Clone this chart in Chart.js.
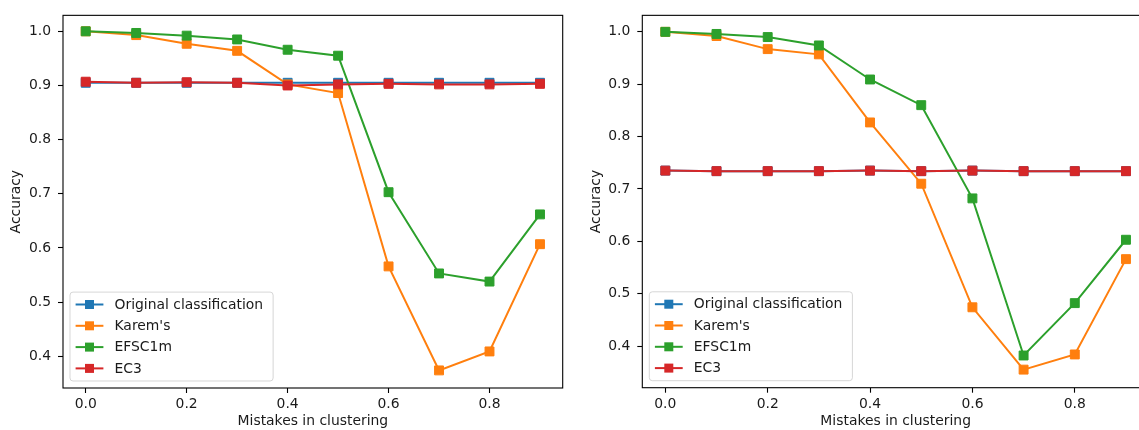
<!DOCTYPE html>
<html>
<head>
<meta charset="utf-8">
<script src="https://cdn.jsdelivr.net/npm/chart.js@4.4.1/dist/chart.umd.min.js"></script>
<style>
  html, body { margin: 0; padding: 0; background: #ffffff; }
  body { width: 1139px; height: 430px; overflow: hidden; position: relative; }
  canvas { position: absolute; top: 0; }
  #c1 { left: 0px; }
  #c2 { left: 570px; }
</style>
</head>
<body>
<canvas id="c1" width="570" height="430"></canvas>
<canvas id="c2" width="600" height="430"></canvas>
<script>
// ---- data ----
const mistakes = [0.0, 0.1, 0.2, 0.3, 0.4, 0.5, 0.6, 0.7, 0.8, 0.9];
const seriesNames = ["Original classification", "Karem's", "EFSC1m", "EC3"];

// left panel
const leftOriginal = [0.905, 0.905, 0.905, 0.905, 0.905, 0.905, 0.905, 0.905, 0.905, 0.905];
const leftKarem    = [1.000, 0.993, 0.977, 0.964, 0.902, 0.886, 0.566, 0.374, 0.409, 0.607];
const leftEFSC1m   = [1.000, 0.997, 0.992, 0.985, 0.966, 0.955, 0.703, 0.553, 0.538, 0.662];
const leftEC3      = [0.907, 0.905, 0.906, 0.905, 0.900, 0.902, 0.903, 0.902, 0.902, 0.903];

// right panel
const rightOriginal = [0.735, 0.734, 0.734, 0.734, 0.735, 0.734, 0.735, 0.734, 0.734, 0.734];
const rightKarem    = [1.000, 0.992, 0.967, 0.957, 0.827, 0.710, 0.474, 0.355, 0.384, 0.566];
const rightEFSC1m   = [1.000, 0.996, 0.990, 0.974, 0.909, 0.860, 0.682, 0.382, 0.482, 0.603];
const rightEC3      = [0.735, 0.734, 0.734, 0.734, 0.735, 0.734, 0.735, 0.734, 0.734, 0.734];

const xTickValues = [0.0, 0.2, 0.4, 0.6, 0.8];
const yTickValues = [0.4, 0.5, 0.6, 0.7, 0.8, 0.9, 1.0];
const xTitle = "Mistakes in clustering";
const yTitle = "Accuracy";

// ---- styles ----
const colors = ["#1f77b4", "#ff7f0e", "#2ca02c", "#d62728"];
const FONT = "DejaVu Sans";
const FS = 13.9;
const TEXT = "#1a1a1a";

function pts(vals) { return mistakes.map((x, i) => ({ x: x, y: vals[i] })); }

function makeDatasets(list) {
  return list.map((vals, i) => ({
    label: seriesNames[i],
    data: pts(vals),
    borderColor: colors[i],
    backgroundColor: colors[i],
    borderWidth: 2,
    pointStyle: 'rect',
    pointRadius: 6.3,
    pointBorderWidth: 1,
    pointBorderColor: colors[i],
    pointBackgroundColor: colors[i],
    tension: 0,
    fill: false,
    order: 3 - i
  }));
}

// frame (all four spines)
const framePlugin = {
  id: 'frame',
  afterDraw(chart) {
    const { ctx, chartArea: a } = chart;
    ctx.save();
    ctx.strokeStyle = '#000';
    ctx.lineWidth = 1.1;
    ctx.strokeRect(a.left, a.top, a.right - a.left, a.bottom - a.top);
    ctx.restore();
  }
};

// matplotlib-like legend inside the axes (lower left)
const mplLegend = {
  id: 'mplLegend',
  afterDraw(chart) {
    const { ctx, chartArea: a } = chart;
    const ds = chart.data.datasets;
    ctx.save();
    ctx.font = FS + 'px "' + FONT + '"';
    let maxW = 0;
    ds.forEach(d => { maxW = Math.max(maxW, ctx.measureText(d.label).width); });
    const rowH = 21.3;
    const left = a.left + 7;
    const bottom = a.bottom - 7;
    const h = rowH * (ds.length - 1) + 25;
    const top = bottom - h;
    const handleX0 = left + 5.6;
    const handleX1 = handleX0 + 27.8;
    const textX = handleX1 + 11.1;
    const right = textX + maxW + 10;
    // box
    const r = 3;
    ctx.beginPath();
    ctx.moveTo(left + r, top);
    ctx.lineTo(right - r, top);
    ctx.arcTo(right, top, right, top + r, r);
    ctx.lineTo(right, bottom - r);
    ctx.arcTo(right, bottom, right - r, bottom, r);
    ctx.lineTo(left + r, bottom);
    ctx.arcTo(left, bottom, left, bottom - r, r);
    ctx.lineTo(left, top + r);
    ctx.arcTo(left, top, left + r, top, r);
    ctx.closePath();
    ctx.fillStyle = 'rgba(255,255,255,0.8)';
    ctx.fill();
    ctx.strokeStyle = 'rgba(204,204,204,0.8)';
    ctx.lineWidth = 1;
    ctx.stroke();
    // entries
    ds.forEach((d, i) => {
      const y = top + 12.4 + i * rowH;
      ctx.strokeStyle = d.borderColor;
      ctx.lineWidth = 2;
      ctx.beginPath();
      ctx.moveTo(handleX0, y);
      ctx.lineTo(handleX1, y);
      ctx.stroke();
      const s = 4.5;
      const cx = (handleX0 + handleX1) / 2;
      ctx.fillStyle = d.borderColor;
      ctx.fillRect(cx - s, y - s, 2 * s, 2 * s);
      ctx.fillStyle = TEXT;
      ctx.textAlign = 'left';
      ctx.textBaseline = 'middle';
      ctx.fillText(d.label, textX, y + 0.5);
    });
    ctx.restore();
  }
};

function makeChart(id, datasetsVals, pad, yMin, yMax) {
  return new Chart(document.getElementById(id), {
    type: 'line',
    data: { datasets: makeDatasets(datasetsVals) },
    options: {
      responsive: false,
      animation: false,
      devicePixelRatio: 1,
      layout: { padding: pad },
      plugins: { legend: { display: false }, tooltip: { enabled: false } },
      scales: {
        x: {
          type: 'linear',
          min: -0.045, max: 0.945,
          afterBuildTicks: s => { s.ticks = xTickValues.map(v => ({ value: v })); },
          afterFit: s => { s.height = pad.xh; },
          grid: { display: true, drawOnChartArea: false, drawTicks: true, tickLength: 5, tickWidth: 1.1, tickColor: '#000' },
          border: { display: false },
          ticks: { color: TEXT, font: { family: FONT, size: FS }, padding: 3, maxRotation: 0,
                    callback: v => Number(v).toFixed(1) },
          title: { display: true, text: xTitle, color: TEXT, font: { family: FONT, size: FS }, padding: { top: 0, bottom: 0 } }
        },
        y: {
          type: 'linear',
          min: yMin, max: yMax,
          afterBuildTicks: s => { s.ticks = yTickValues.map(v => ({ value: v })); },
          afterFit: s => { s.width = 63; },
          grid: { display: true, drawOnChartArea: false, drawTicks: true, tickLength: 5, tickWidth: 1.1, tickColor: '#000' },
          border: { display: false },
          ticks: { color: TEXT, font: { family: FONT, size: FS }, padding: 7,
                   callback: v => Number(v).toFixed(1) },
          title: { display: true, text: yTitle, color: TEXT, font: { family: FONT, size: FS }, padding: { top: 8.5, bottom: 0 } }
        }
      }
    },
    plugins: [framePlugin, mplLegend]
  });
}

makeChart('c1', [leftOriginal, leftKarem, leftEFSC1m, leftEC3],
  { left: 0, right: 5, top: 13.3, bottom: 0, xh: 42 }, 0.3415, 1.0295);
makeChart('c2', [rightOriginal, rightKarem, rightEFSC1m, rightEC3],
  { left: 9.3, right: 21, top: 11.7, bottom: 0, xh: 42.3 }, 0.3205, 1.0315);
</script>
</body>
</html>
